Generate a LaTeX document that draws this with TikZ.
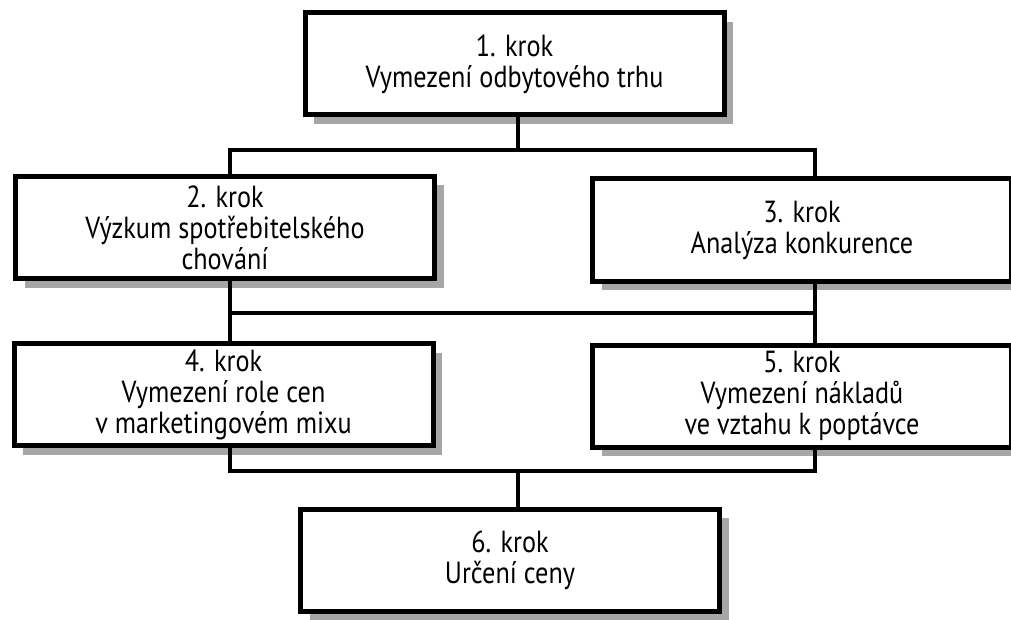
\documentclass[tikz,border=0pt]{standalone}
\usepackage{fontspec}
\setmainfont{PT Sans}[FakeStretch=0.86]
\usetikzlibrary{shadows}
\begin{document}
\begin{tikzpicture}[x=1pt,y=-1pt,
  stepbox/.style={draw, line width=5pt, fill=white, inner sep=0pt,
    minimum width=419pt, minimum height=102pt, align=center,
    font=\fontsize{30.5}{31}\selectfont,
    drop shadow={shadow xshift=9pt, shadow yshift=-9pt, fill=black!35, opacity=1}},
  conn/.style={line width=4.3pt}]
\clip (0,0) rectangle (1011,620);

% process steps
\node[stepbox] (s1) at (514.5,64) {1. krok\\Vymezení odbytového trhu};
\node[stepbox] (s2) at (225,227.5) {2. krok\\Výzkum spotřebitelského\\chování};
\node[stepbox] (s3) at (802,230) {3. krok\\Analýza konkurence};
\node[stepbox] (s4) at (223.5,394.5) {4. krok\\Vymezení role cen\\v marketingovém mixu};
\node[stepbox] (s5) at (802,396) {5. krok\\Vymezení nákladů\\ve vztahu k poptávce};
\node[stepbox] (s6) at (510,560) {6. krok\\Určení ceny};

% junction points of the bus lines
\coordinate (a1) at (518,150);
\coordinate (l1) at (230,150);
\coordinate (r1) at (815,150);
\coordinate (l2) at (230,313);
\coordinate (r2) at (815,313);
\coordinate (l3) at (230,471);
\coordinate (r3) at (815,471);
\coordinate (a3) at (518,471);

% connectors
\draw[conn] (s1.south -| a1) -- (a1);
\draw[conn] (l1 |- s2.north) -- (l1) -- (r1) -- (r1 |- s3.north);
\draw[conn] (l2 |- s2.south) -- (l2 |- s4.north);
\draw[conn] (r2 |- s3.south) -- (r2 |- s5.north);
\draw[conn] (l2) -- (r2);
\draw[conn] (l3 |- s4.south) -- (l3) -- (r3) -- (r3 |- s5.south);
\draw[conn] (a3) -- (a3 |- s6.north);
\end{tikzpicture}
\end{document}
